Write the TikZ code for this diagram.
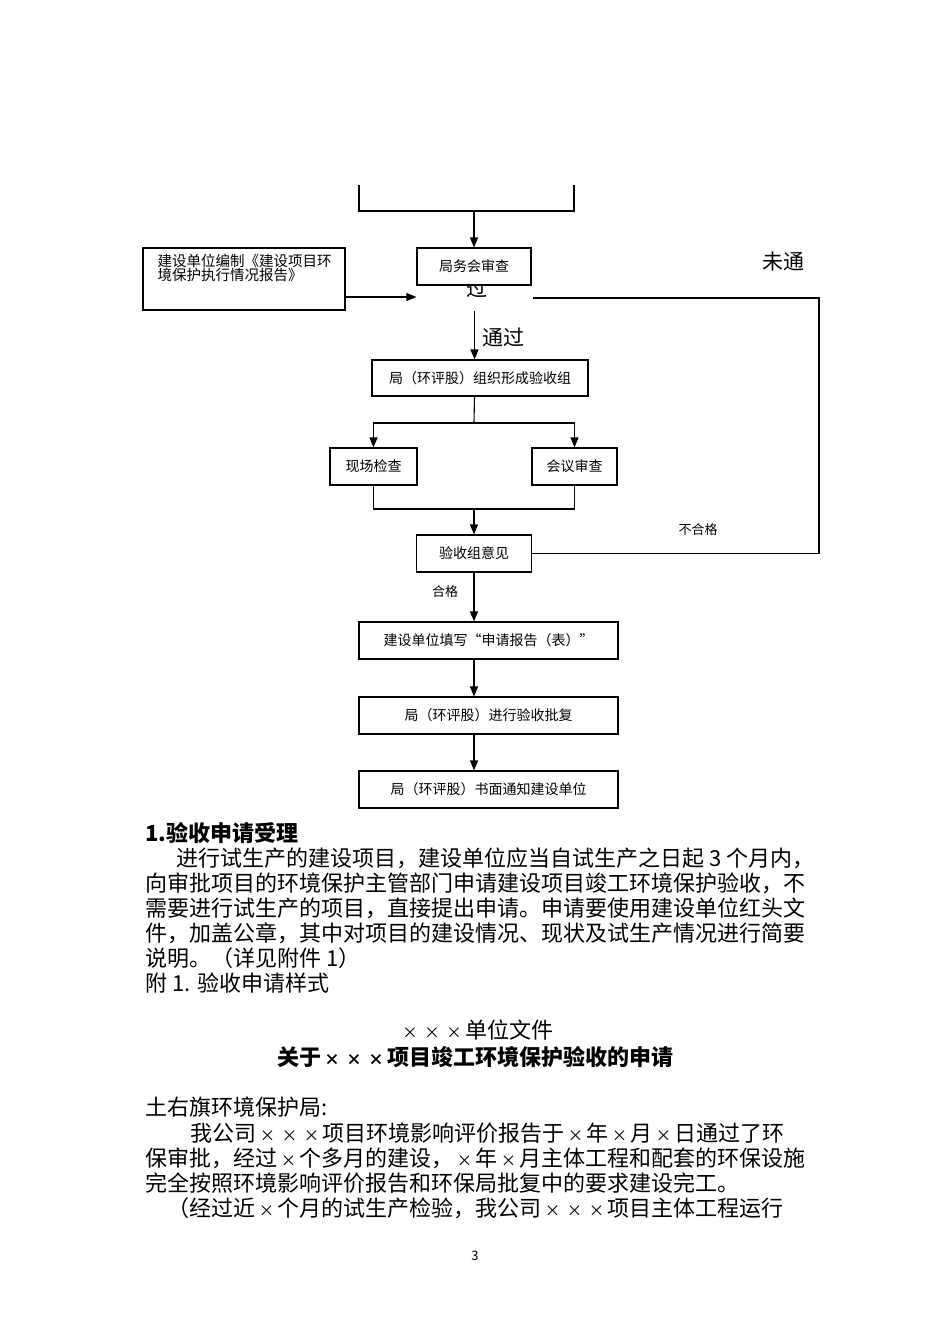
\documentclass[tikz,border=0pt]{standalone}
\usepackage{fontspec}
\setmainfont{Noto Sans CJK SC}
\usetikzlibrary{arrows.meta}
\newcommand{\xx}{\makebox[1em]{\scalebox{0.7}{×}}}

\begin{document}
\begin{tikzpicture}[x=1pt,y=-1pt,line width=1.1pt,
box node/.style={draw,fill=white,inner sep=0pt,font=\fontsize{14}{14}\selectfont},
small label/.style={inner sep=0pt,font=\fontsize{13}{14}\selectfont},
big label/.style={inner sep=0pt,font=\fontsize{21}{22}\selectfont},
body line/.style={anchor=west,inner sep=0pt,font=\fontsize{22}{25}\selectfont},
arrow/.style={-{Triangle[length=10pt,width=8pt]}}]
\useasboundingbox (0,0) rectangle (950,1344);

% flow chart
\draw (359,185) |- (574,211) -- (574,185);
\coordinate (topout) at (474,211);
\node[big label] (hidden) at (477,288) {过};
\node[minimum width=115pt,minimum height=62pt,inner sep=0pt] (hub) at (474.5,279) {};
\node[box node,minimum width=114pt,minimum height=37pt] (review) at (474,266.5) {局务会审查};
\node[box node,minimum width=202pt,minimum height=62pt] (report) at (244,279) {};
\node[anchor=north west,align=left,inner sep=0pt,font=\fontsize{14.5}{14}\selectfont] (reporttext) at (157,254) {建设单位编制《建设项目环\\境保护执行情况报告》};
\node[big label] (notpass) at (783,262) {未通};
\node[big label] (pass) at (503,337) {通过};
\node[box node,minimum width=216pt,minimum height=36pt] (organize) at (480,378) {局（环评股）组织形成验收组};
\node[box node,minimum width=87pt,minimum height=37pt] (site) at (373.5,466.5) {现场检查};
\node[box node,minimum width=85pt,minimum height=37pt] (meeting) at (574.5,466.5) {会议审查};
\node[box node,minimum width=115pt,minimum height=37pt] (opinion) at (474,553.5) {验收组意见};
\node[small label] (fail) at (698,530) {不合格};
\node[small label] (ok) at (445,592) {合格};
\node[box node,minimum width=259pt,minimum height=37pt] (apply) at (488.5,640.5) {建设单位填写“申请报告（表）”};
\node[box node,minimum width=259pt,minimum height=37pt] (approve) at (488.5,715.5) {局（环评股）进行验收批复};
\node[box node,minimum width=259pt,minimum height=37pt] (notify) at (488.5,789.5) {局（环评股）书面通知建设单位};
\coordinate (split) at (474,423);
\coordinate (merge) at (474,509);
\coordinate (loop) at (819,553.5);

\draw [arrow] (topout) -- (review);
\draw [arrow] ([yshift=-18pt]report.east) -- ([yshift=-18pt]hub.west);
\draw (opinion.east) -- (loop) |- ([yshift=-19pt]hub.east);
\draw [arrow] (hub.south) -- (hub.south |- organize.north);
\draw (hub.south |- organize.south) -- (split);
\draw [arrow] (split) -| (site);
\draw [arrow] (split) -| (meeting);
\draw (site) |- (merge) -| (meeting);
\draw [arrow] (merge) -- (opinion);
\draw [arrow] (opinion.south) -- (opinion.south |- apply.north);
\draw [arrow] (opinion.south |- apply.south) -- (opinion.south |- approve.north);
\draw [arrow] (opinion.south |- approve.south) -- (opinion.south |- notify.north);

% text
\node[body line,font=\bfseries\fontsize{22}{25}\selectfont] (head) at (145,833) {1.验收申请受理};
\node[body line] (p1) at (176,858) {进行试生产的建设项目，建设单位应当自试生产之日起 3 个月内，};
\node[body line] (p2) at (145,883) {向审批项目的环境保护主管部门申请建设项目竣工环境保护验收，不};
\node[body line] (p3) at (145,908) {需要进行试生产的项目，直接提出申请。申请要使用建设单位红头文};
\node[body line] (p4) at (145,933) {件，加盖公章，其中对项目的建设情况、现状及试生产情况进行简要};
\node[body line] (p5) at (145,958) {说明。（详见附件 1）};
\node[body line] (p6) at (145,983) {附 1. 验收申请样式};
\node[body line,anchor=center] (filehead) at (476,1030) {\xx\xx\xx 单位文件};
\node[body line,anchor=center,font=\bfseries\fontsize{22}{25}\selectfont] (title) at (475,1057) {关于\xx\xx\xx 项目竣工环境保护验收的申请};
\node[body line] (addressee) at (145,1107) {土右旗环境保护局:};
\node[body line] (q1) at (190,1133) {我公司\xx\xx\xx 项目环境影响评价报告于\xx 年\xx 月\xx 日通过了环};
\node[body line] (q2) at (145,1158) {保审批，经过\xx 个多月的建设，\xx 年\xx 月主体工程和配套的环保设施};
\node[body line] (q3) at (145,1183) {完全按照环境影响评价报告和环保局批复中的要求建设完工。};
\node[body line] (q4) at (167,1208) {（经过近\xx 个月的试生产检验，我公司\xx\xx\xx 项目主体工程运行};
\node[small label] (pagenum) at (475,1256) {3};

\end{tikzpicture}
\end{document}
